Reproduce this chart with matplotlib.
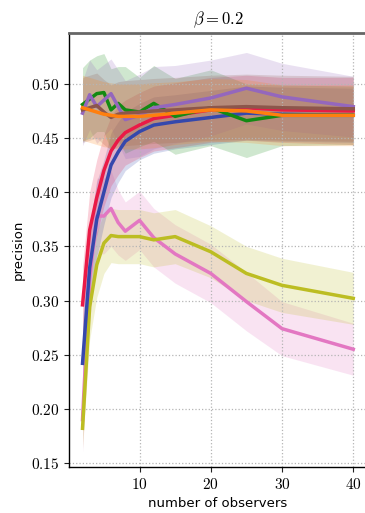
import numpy as np
import matplotlib
matplotlib.use("Agg")
import matplotlib.pyplot as plt
from matplotlib.ticker import FuncFormatter

plt.rcParams['mathtext.fontset'] = 'cm'

# number of observers
x = [2, 3, 4, 5, 6, 7, 8, 10, 12, 15, 20, 25, 30, 40]

# mean precision per method
pink = [0.19, 0.32, 0.378, 0.378, 0.385, 0.372, 0.364, 0.374, 0.358, 0.343, 0.325, 0.299, 0.274, 0.255]
olive = [0.182, 0.294, 0.333, 0.353, 0.360, 0.359, 0.359, 0.359, 0.356, 0.359, 0.345, 0.325, 0.314, 0.302]
blue = [0.242, 0.33, 0.375, 0.40, 0.425, 0.437, 0.447, 0.456, 0.462, 0.465, 0.469, 0.473, 0.472, 0.471]
red = [0.296, 0.365, 0.395, 0.42, 0.438, 0.448, 0.455, 0.462, 0.468, 0.471, 0.476, 0.478, 0.476, 0.475]
green = [0.481, 0.486, 0.491, 0.492, 0.476, 0.482, 0.476, 0.474, 0.482, 0.470, 0.478, 0.466, 0.471, 0.471]
purple = [0.473, 0.490, 0.479, 0.485, 0.491, 0.479, 0.467, 0.471, 0.478, 0.481, 0.487, 0.496, 0.488, 0.479]
brown = [0.476, 0.478, 0.480, 0.474, 0.469, 0.472, 0.473, 0.474, 0.475, 0.476, 0.478, 0.479, 0.478, 0.477]
orange = [0.478, 0.476, 0.474, 0.472, 0.471, 0.470, 0.470, 0.470, 0.471, 0.473, 0.476, 0.475, 0.471, 0.471]

# spread (std) per method
pink_sd = [0.03, 0.04, 0.035, 0.035, 0.035, 0.03, 0.027, 0.027, 0.027, 0.027, 0.027, 0.027, 0.025, 0.024]
olive_sd = [0.018, 0.03, 0.03, 0.028, 0.025, 0.025, 0.025, 0.025, 0.025, 0.025, 0.024, 0.025, 0.025, 0.024]
blue_sd = [0.04, 0.04, 0.035, 0.03, 0.03, 0.028, 0.027, 0.026, 0.026, 0.025, 0.025, 0.025, 0.025, 0.025]
red_sd = [0.035, 0.035, 0.035, 0.033, 0.032, 0.032, 0.03, 0.03, 0.03, 0.03, 0.03, 0.03, 0.03, 0.031]
green_sd = [0.034, 0.036, 0.035, 0.036, 0.038, 0.034, 0.04, 0.032, 0.035, 0.035, 0.035, 0.034, 0.028, 0.027]
purple_sd = [0.03, 0.032, 0.034, 0.033, 0.032, 0.034, 0.036, 0.038, 0.038, 0.036, 0.035, 0.033, 0.031, 0.028]
brown_sd = [0.03, 0.03, 0.03, 0.03, 0.03, 0.03, 0.03, 0.03, 0.03, 0.03, 0.03, 0.03, 0.03, 0.03]
orange_sd = [0.03, 0.03, 0.03, 0.03, 0.03, 0.03, 0.03, 0.03, 0.03, 0.029, 0.029, 0.029, 0.028, 0.028]

series = [
    (pink, pink_sd, '#e377c2'),
    (olive, olive_sd, '#bcbd22'),
    (blue, blue_sd, '#3548ac'),
    (red, red_sd, '#ea1a46'),
    (green, green_sd, '#138a13'),
    (purple, purple_sd, '#9467bd'),
    (brown, brown_sd, '#8c564b'),
    (orange, orange_sd, '#ff7f0e'),
]

fig = plt.figure(figsize=(3.65, 5.13), dpi=100)
ax = fig.add_axes([0.189, 0.0897, 0.816, 0.846])

xs = np.array(x)
for mean, sd, col in series:
    m = np.array(mean)
    s = np.array(sd)
    ax.fill_between(xs, m - s, m + s, color=col, alpha=0.2, lw=0)
for mean, sd, col in series:
    ax.plot(xs, mean, color=col, lw=2.5)

ax.set_xlim(0.1, 41.9)
ax.set_ylim(0.1463, 0.547)
ax.set_xticks([10, 20, 30, 40])
ax.set_yticks([0.15, 0.20, 0.25, 0.30, 0.35, 0.40, 0.45, 0.50])
ax.xaxis.set_major_formatter(FuncFormatter(lambda v, p: r'$%d$' % v))
ax.yaxis.set_major_formatter(FuncFormatter(lambda v, p: r'$%.2f$' % v))
ax.tick_params(labelsize=11, length=3.5, width=0.8, color='#222222')
ax.grid(True, linestyle=':', color='#b5b5b5', lw=0.9)

ax.spines['left'].set_color('black')
ax.spines['bottom'].set_color('black')
ax.spines['left'].set_linewidth(1.0)
ax.spines['bottom'].set_linewidth(1.0)
ax.spines['top'].set_color('#666666')
ax.spines['top'].set_linewidth(2.0)
ax.spines['right'].set_visible(False)

ax.set_xlabel('number of observers', fontsize=9.5)
ax.set_ylabel('precision', fontsize=9.5)
ax.set_title(r'$\beta = 0.2$', fontsize=12, pad=6)

fig.savefig('out.png', dpi=100)
